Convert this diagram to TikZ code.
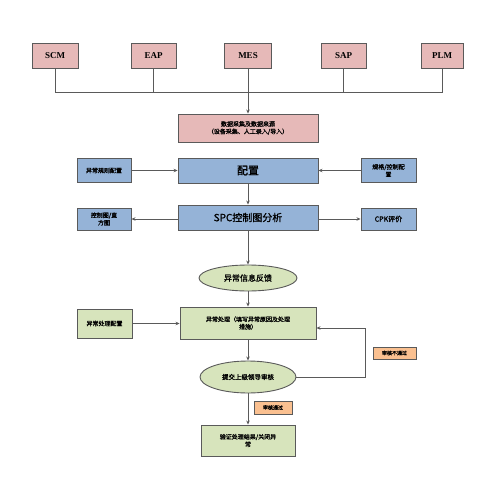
\documentclass[tikz,border=0pt]{standalone}
\usepackage{fontspec}
\setmainfont{Liberation Serif}
\newfontfamily\cjk{Noto Sans CJK SC}[FakeBold=1.2]
\usetikzlibrary{shapes.geometric,arrows.meta}
\definecolor{pinkf}{HTML}{E6B9B8}
\definecolor{bluef}{HTML}{95B3D7}
\definecolor{greenf}{HTML}{D7E4BC}
\definecolor{orangef}{HTML}{FAC090}
\definecolor{edge}{HTML}{5A5A5A}
\tikzset{
  box/.style={draw=edge, line width=0.9pt, inner sep=1pt, align=center, font=\cjk\fontsize{6}{7.5}\selectfont},
  sys/.style={box, fill=pinkf, minimum height=25pt, font=\bfseries\fontsize{9}{10}\selectfont},
  pinkbox/.style={box, fill=pinkf},
  bluebox/.style={box, fill=bluef},
  greenbox/.style={box, fill=greenf},
  oval/.style={box, ellipse, fill=greenf, inner sep=0pt},
  tag/.style={box, fill=orangef, line width=0.7pt, font=\cjk\fontsize{5}{6}\selectfont},
  conn/.style={draw=edge, line width=0.9pt},
  arr/.style={conn, -{Stealth[length=4pt,width=3.5pt]}},
}
\begin{document}
\begin{tikzpicture}[x=1pt,y=-1pt]
\useasboundingbox[fill=white] (0,0) rectangle (500,500);
% system boxes
\node[sys, minimum width=46pt] (scm) at (55,55.5) {SCM};
\node[sys, minimum width=45pt] (eap) at (153.5,55.5) {EAP};
\node[sys, minimum width=47pt] (mes) at (248,55.5) {MES};
\node[sys, minimum width=45pt] (sap) at (343.5,55.5) {SAP};
\node[sys, minimum width=42pt] (plm) at (442,55.5) {PLM};
\coordinate (bus) at (0,92);
\draw[conn] (scm.south) -- (scm.south |- bus) -- (plm.south |- bus) -- (plm.south);
\draw[conn] (eap.south) -- (eap.south |- bus);
\draw[conn] (sap.south) -- (sap.south |- bus);
\draw[conn] (mes.south) -- (mes.south |- bus);
% data
\node[pinkbox, minimum width=140pt, minimum height=28pt] (data) at (248,128) {数据采集及数据来源\\（设备采集、人工录入/导入）};
\draw[arr] (mes.south |- bus) -- (data.north);
% config row
\node[bluebox, minimum width=140pt, minimum height=25pt, font=\cjk\fontsize{11}{12}\selectfont] (cfg) at (248,170.5) {配置};
\node[bluebox, minimum width=54pt, minimum height=24pt] (rule) at (104,170.5) {异常规则配置};
\node[bluebox, minimum width=55pt, minimum height=24pt] (spec) at (388.5,170.5) {规格/控制配\\置};
\draw[arr] (rule.east) -- (cfg.west);
\draw[arr] (spec.west) -- (cfg.east);
% spc row
\node[bluebox, minimum width=140pt, minimum height=25pt, font=\cjk\fontsize{10}{12}\selectfont] (spc) at (248,217.5) {SPC控制图分析};
\node[bluebox, minimum width=54pt, minimum height=22pt] (chart) at (104,219) {控制图/直\\方图};
\node[bluebox, minimum width=55pt, minimum height=22pt, font=\cjk\fontsize{7}{8}\selectfont] (cpk) at (388.5,219) {CPK评价};
\draw[arr] (cfg.south) -- (spc.north);
\draw[arr] (spc.west |- chart.east) -- (chart.east);
\draw[arr] (spc.east |- cpk.west) -- (cpk.west);
% feedback
\node[oval, minimum width=98pt, minimum height=26pt, font=\cjk\fontsize{8}{9}\selectfont] (fb) at (248,278) {异常信息反馈};
\draw[arr] (spc.south) -- (fb.north);
% process
\node[greenbox, minimum width=136pt, minimum height=32pt] (proc) at (248,323) {异常处理（填写异常原因及处理\\措施）};
\node[greenbox, minimum width=55pt, minimum height=29pt] (pcfg) at (104.5,323.5) {异常处理配置};
\draw[arr] (fb.south) -- (proc.north);
\draw[arr] (pcfg.east) -- (proc.west |- pcfg.east);
% review
\node[oval, minimum width=96pt, minimum height=32pt, font=\cjk\fontsize{6.5}{8}\selectfont] (rev) at (248,377) {提交上级领导审核};
\draw[arr] (proc.south) -- (rev.north);
\coordinate (ret) at (365,377);
\coordinate (retin) at (365,328);
\draw[arr] (rev.east) -- (ret) -- (retin) -- (proc.east |- retin);
\node[tag, minimum width=43pt, minimum height=12pt] (fail) at (394.5,353) {审核不通过};
% final
\node[greenbox, minimum width=94pt, minimum height=31pt] (fin) at (248,440.5) {验证处理结果/关闭异\\常};
\draw[arr] (rev.south) -- (fin.north);
\node[tag, minimum width=38pt, minimum height=13pt] (pass) at (273,407.5) {审核通过};
\end{tikzpicture}
\end{document}
